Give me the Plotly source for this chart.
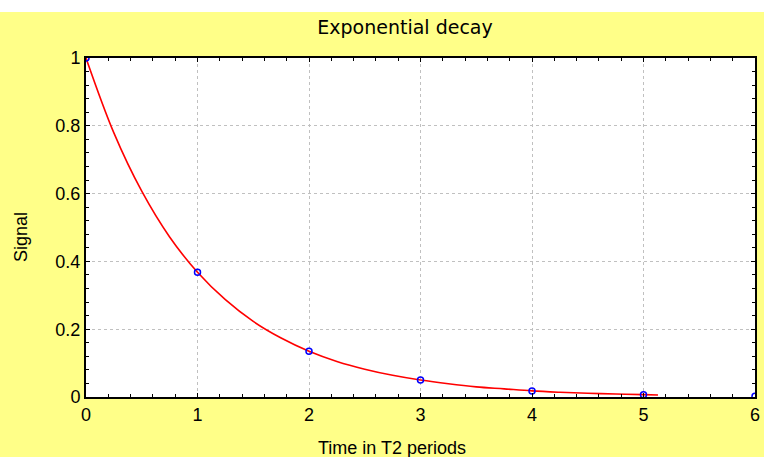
import plotly.graph_objects as go

# Fitted decay curve
curve_t = [0.0, 0.25, 0.5, 0.75, 1.0, 1.25, 1.5, 1.75, 2.0, 2.25, 2.5, 2.75, 3.0,
           3.25, 3.5, 3.75, 4.0, 4.25, 4.5, 4.75, 5.0, 5.13]
curve_signal = [1.0, 0.779, 0.607, 0.472, 0.368, 0.287, 0.223, 0.174, 0.135, 0.105,
                0.082, 0.064, 0.050, 0.039, 0.030, 0.024, 0.018, 0.014, 0.011,
                0.009, 0.007, 0.006]

# Measured points
point_t = [0, 1, 2, 3, 4, 5, 6]
point_signal = [1.0, 0.368, 0.135, 0.050, 0.018, 0.007, 0.002]

x_ticks = [0, 1, 2, 3, 4, 5, 6]
y_ticks = [0, 0.2, 0.4, 0.6, 0.8, 1]

W, H = 764, 457
ml, mr, mt, mb = 86, 9, 58, 60
pw, ph = W - ml - mr, H - mt - mb

fig = go.Figure()
fig.add_trace(go.Scatter(x=curve_t, y=curve_signal, mode="lines",
                         line=dict(color="#ff0000", width=1.6, shape="spline"),
                         showlegend=False, hoverinfo="skip"))
fig.add_trace(go.Scatter(x=point_t, y=point_signal, mode="markers",
                         marker=dict(symbol="circle-open", color="#0000ff", size=6,
                                     line=dict(width=1.5, color="#0000ff")),
                         showlegend=False))

axis_common = dict(
    showline=True, linecolor="black", linewidth=2, mirror="allticks",
    ticks="inside", ticklen=4, tickwidth=1, tickcolor="black",
    showgrid=True, gridcolor="#c0c0c0", griddash="dot", gridwidth=1,
    zeroline=False,
    tickfont=dict(family="Liberation Sans, Arial", size=18, color="black"),
)

fig.update_xaxes(range=[0, 6], tickvals=x_ticks, ticktext=[str(v) for v in x_ticks],
                 minor=dict(dtick=0.2, tick0=0, ticks="inside", ticklen=3,
                            tickcolor="black", showgrid=False),
                 **axis_common)
fig.update_yaxes(range=[0, 1], tickvals=y_ticks,
                 ticktext=["0", "0.2", "0.4", "0.6", "0.8", "1"],
                 minor=dict(dtick=0.04, tick0=0, ticks="inside", ticklen=3,
                            tickcolor="black", showgrid=False),
                 **axis_common)

# white strip at top of the figure
top_white = 1 + (mt - 12) / ph
fig.add_shape(type="rect", xref="paper", yref="paper",
              x0=-ml / pw - 0.02, x1=1 + mr / pw + 0.02, y0=top_white, y1=1 + mt / ph + 0.05,
              fillcolor="white", line=dict(width=0), layer="below")

fig.add_annotation(text="Time in T2 periods", xref="paper", yref="paper",
                   x=(392 - ml) / pw, y=(mt + ph - 448) / ph, showarrow=False,
                   xanchor="center", yanchor="middle",
                   font=dict(family="Liberation Sans, Arial", size=18, color="black"))
fig.add_annotation(text="Signal", xref="paper", yref="paper",
                   x=(21 - ml) / pw, y=(mt + ph - 237) / ph, showarrow=False,
                   textangle=-90, xanchor="center", yanchor="middle",
                   font=dict(family="Liberation Sans, Arial", size=18, color="black"))

fig.update_layout(
    width=W, height=H,
    margin=dict(l=ml, r=mr, t=mt, b=mb, autoexpand=False),
    paper_bgcolor="#ffff88", plot_bgcolor="white",
    title=dict(text="Exponential decay", xref="container", yref="container",
               x=405 / W, y=1 - 27 / H, xanchor="center", yanchor="middle",
               font=dict(family="DejaVu Sans", size=19, color="black")),
)

fig.write_html("out.html")
